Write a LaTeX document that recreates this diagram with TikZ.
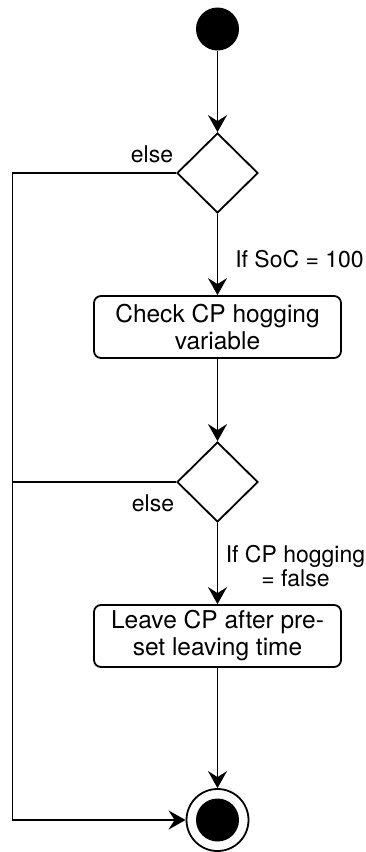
\documentclass[tikz,border=0pt]{standalone}
\usepackage{fontspec}
\setmainfont{TeX Gyre Heros}
\usetikzlibrary{shapes.geometric,arrows.meta}
\begin{document}
\begin{tikzpicture}[x=1pt,y=-1pt,line width=1.8pt,
  flow/.style={-{Stealth[length=17pt,width=19pt,inset=6pt]}},
  initial/.style={circle,fill=black,draw=none,minimum size=43pt,inner sep=0pt},
  final/.style={circle,draw,fill=white,minimum size=62pt,inner sep=0pt},
  decision/.style={diamond,draw,minimum width=81pt,minimum height=80pt,inner sep=0pt},
  action/.style={rectangle,draw,rounded corners=7pt,minimum width=247pt,minimum height=62pt,
    align=center,font=\fontsize{24.5}{27}\selectfont},
  lbl/.style={align=center,inner sep=0pt,font=\fontsize{23}{23.5}\selectfont}]
\useasboundingbox (0,0) rectangle (365,852);

% nodes
\node[initial] (start) at (217.5,29) {};
\node[decision] (d1) at (217.5,173) {};
\node[action] (b1) at (217.5,327) {Check CP hogging\\variable};
\node[decision] (d2) at (217.5,482) {};
\node[action] (b2) at (217.5,636) {Leave CP after pre-\\set leaving time};
\node[final] (end) at (217.5,820) {};
\fill (end.center) circle (21.5pt);

% left-hand return path
\coordinate (c1) at (12.5,173);
\coordinate (c2) at (12.5,820);
\coordinate (c3) at (12.5,482);

% connectors
\draw[flow] (start) -- (d1);
\draw[flow] (d1) -- (b1);
\draw[flow] (b1) -- (d2);
\draw[flow] (d2) -- (b2);
\draw[flow] (b2) -- (end);
\draw[flow] (d1.west) -- (c1) -- (c2) -- (end.west);
\draw (d2.west) -- (c3);

% guard labels
\node[lbl] (e1) at (152,154) {else};
\node[lbl] (g1) at (299.5,259) {If SoC = 100};
\node[lbl] (e2) at (153,503) {else};
\node[lbl] (g2) at (295.5,566) {If CP hogging\\= false};
\end{tikzpicture}
\end{document}
